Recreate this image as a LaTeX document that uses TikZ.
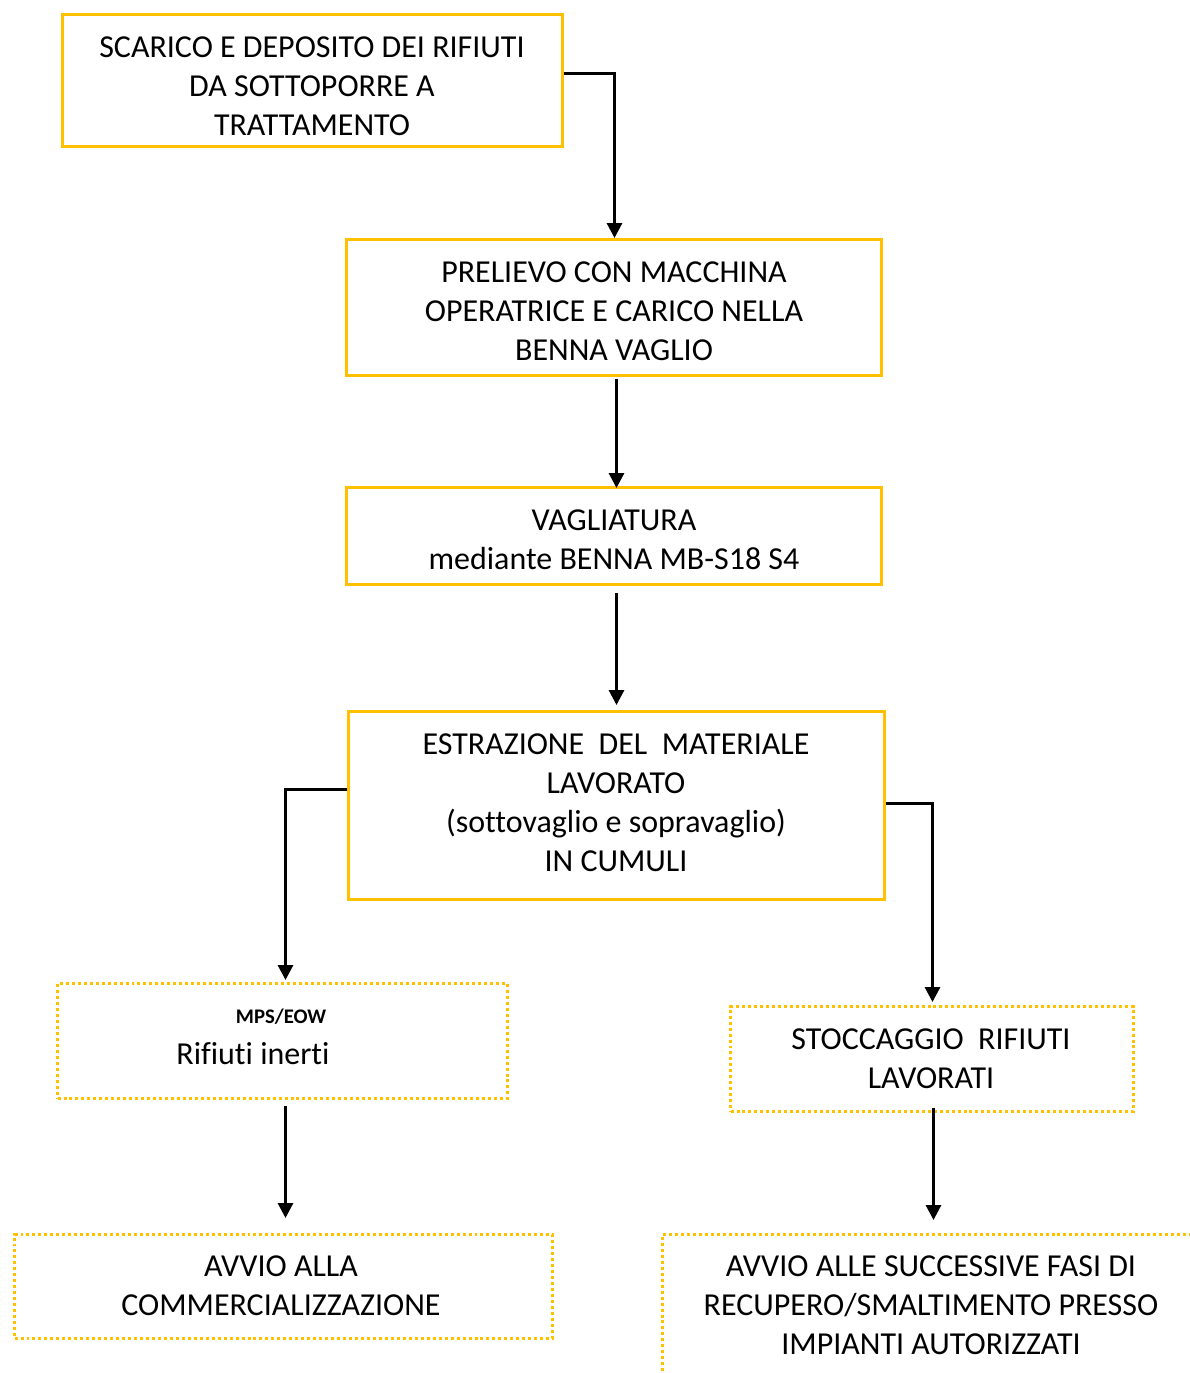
\documentclass[tikz,border=0pt]{standalone}
\usepackage{fontspec}
\setmainfont[Ligatures={NoCommon}]{Carlito}
\usetikzlibrary{arrows.meta}
\definecolor{gold}{HTML}{FFC000}
\begin{document}
\begin{tikzpicture}[x=0.02cm,y=-0.02cm,
  solidbox/.style={draw=gold,line width=1.7pt,rectangle,inner sep=0pt},
  dotbox/.style={draw=gold,line width=1.7pt,rectangle,inner sep=0pt,dash pattern=on 1.7pt off 1.7pt},
  txt/.style={align=center,inner sep=0pt,font=\fontsize{18.2pt}{22.2pt}\selectfont},
  small/.style={inner sep=0pt,font=\fontsize{11.8pt}{14pt}\selectfont\bfseries},
  arr/.style={draw=black,line width=1.7pt,-{Triangle[length=0.3cm,width=0.3cm]}}]
\useasboundingbox (0,0) rectangle (1190,1373);
\clip (0,0) rectangle (1190,1373);
% boxes
\node[solidbox,minimum width=10cm,minimum height=2.64cm] (b1) at (312.5,80.5) {};
\node[solidbox,minimum width=10.7cm,minimum height=2.72cm] (b2) at (614,307.5) {};
\node[solidbox,minimum width=10.7cm,minimum height=1.94cm] (b3) at (614,536) {};
\node[solidbox,minimum width=10.72cm,minimum height=3.76cm] (b4) at (616.5,805.5) {};
\node[dotbox,minimum width=9cm,minimum height=2.3cm] (b5) at (282.5,1041) {};
\node[dotbox,minimum width=8.06cm,minimum height=2.1cm] (b6) at (932,1059) {};
\node[dotbox,minimum width=10.76cm,minimum height=2.08cm] (b7) at (283.5,1286.5) {};
\node[dotbox,minimum width=11.56cm,minimum height=3.72cm] (b8) at (951.5,1327.5) {};
% texts
\node[txt] (t1) at (312,86) {SCARICO E DEPOSITO DEI RIFIUTI\\DA SOTTOPORRE A\\TRATTAMENTO};
\node[txt] (t2) at (614,311) {PRELIEVO CON MACCHINA\\OPERATRICE E CARICO NELLA\\BENNA VAGLIO};
\node[txt] (t3) at (614,540) {VAGLIATURA\\mediante BENNA MB-S18 S4};
\node[txt] (t4) at (616,803) {ESTRAZIONE\ \ DEL\ \ MATERIALE\\LAVORATO\\(sottovaglio e sopravaglio)\\IN CUMULI};
\node[small] (t5a) at (281,1017) {MPS/EOW};
\node[txt] (t5b) at (253,1054) {Rifiuti inerti};
\node[txt] (t6) at (931,1059) {STOCCAGGIO\ \ RIFIUTI\\LAVORATI};
\node[txt] (t7) at (281,1286) {AVVIO ALLA\\COMMERCIALIZZAZIONE};
\node[txt] (t8) at (931,1305) {AVVIO ALLE SUCCESSIVE FASI DI\\RECUPERO/SMALTIMENTO PRESSO\\IMPIANTI AUTORIZZATI};
% connector bend points and columns
\coordinate (c1) at (614.5,73.5);
\coordinate (x2) at (616.5,0);
\coordinate (c4) at (285.5,789.5);
\coordinate (c5) at (932.5,803.5);
\coordinate (x7) at (933.5,0);
% arrows
\draw[arr] (b1.east |- c1) -| (b2.north -| c1);
\draw[arr] ([yshift=-0.04cm]b2.south -| x2) -- ([yshift=-0.04cm]b3.north -| x2);
\draw[arr] ([yshift=-0.14cm]b3.south -| x2) -- ([yshift=0.1cm]b4.north -| x2);
\draw[arr] (b4.west |- c4) -| ([yshift=0.04cm]c4 |- b5.north);
\draw[arr] (b4.east |- c5) -| ([yshift=0.06cm]c5 |- b6.north);
\draw[arr] ([yshift=-0.12cm]b5.south -| c4) -- ([yshift=0.3cm]b7.north -| c4);
\draw[arr] ([yshift=0.1cm]b6.south -| x7) -- ([yshift=0.26cm]b8.north -| x7);
\end{tikzpicture}
\end{document}
